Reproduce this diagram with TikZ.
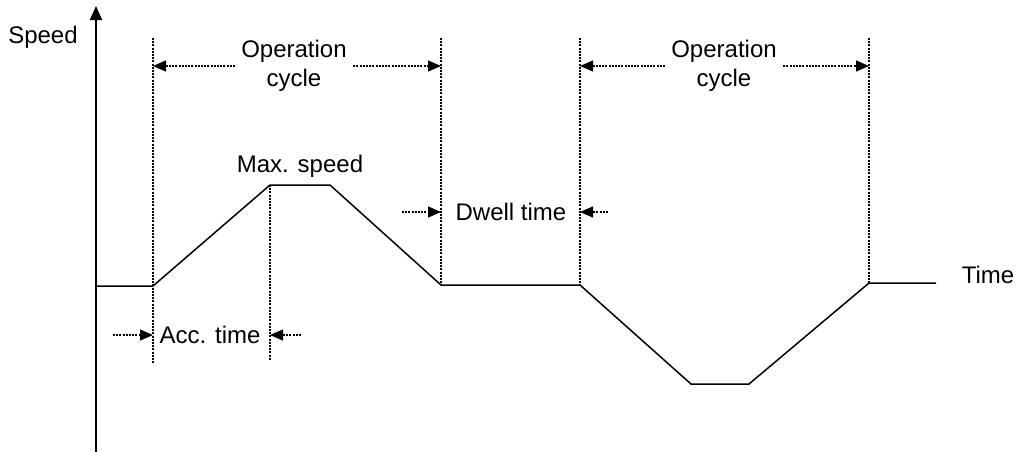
\documentclass[tikz,border=0pt]{standalone}
\usepackage{fontspec}
\setmainfont{Liberation Sans}
\usepackage{tikz}
\usetikzlibrary{arrows.meta, positioning, calc}
\tikzset{
  profileline/.style={line width=0.75pt, draw=black},
  guideline/.style={line width=0.6pt, draw=black, dash pattern=on 1pt off 0.6pt},
  spanarrow/.style={-{Triangle[length=6.5pt, width=5.5pt]}, line width=0.6pt, dash pattern=on 1pt off 0.6pt},
  axisarrow/.style={-{Triangle[length=7pt, width=6pt]}, line width=0.75pt},
  plotlabel/.style={align=center, inner sep=1pt, font=\fontsize{12}{14.5}\selectfont}
}
\begin{document}
\begin{tikzpicture}[x=0.5pt, y=-0.5pt]
  \useasboundingbox (0,0) rectangle (1019,452);

  % profile corners
  \coordinate (axbottom) at (96,452);
  \coordinate (axtop) at (96,6);
  \coordinate (start) at (96,286);
  \coordinate (accbegin) at (153,286);
  \coordinate (topleft) at (270,185);
  \coordinate (topright) at (330,185);
  \coordinate (dwellbegin) at (441,285);
  \coordinate (dwellend) at (580,285);
  \coordinate (lowleft) at (691,384);
  \coordinate (lowright) at (749,384);
  \coordinate (cycleend) at (869,283);
  \coordinate (finish) at (936,283);

  % axis and speed profile
  \draw[axisarrow] (axbottom) -- (axtop);
  \draw[profileline] (start) -- (accbegin) -- (topleft) -- (topright)
    -- (dwellbegin) -- (dwellend) -- (lowleft) -- (lowright)
    -- (cycleend) -- (finish);

  % guide lines
  \draw[guideline] (accbegin |- 0,38) -- (accbegin |- 0,363);
  \draw[guideline] (topleft) -- (topleft |- 0,360);
  \draw[guideline] (dwellbegin |- 0,38) -- (dwellbegin);
  \draw[guideline] (dwellend |- 0,38) -- (dwellend);
  \draw[guideline] (cycleend |- 0,38) -- (cycleend);

  % labels
  \node[plotlabel] (speed) at (43,37) {Speed};
  \node[plotlabel] (time) at (988,275) {Time};
  \node[plotlabel] (maxspeed) at (300,166) {Max. speed};
  \node[plotlabel, inner sep=3pt] (cycleA) at (294,66) {Operation\\cycle};
  \node[plotlabel, inner sep=3pt] (cycleB) at (724,66) {Operation\\cycle};
  \node[plotlabel, inner sep=4pt] (acc) at (210,335) {Acc. time};
  \node[plotlabel, inner sep=4pt] (dwell) at (511,212) {Dwell time};

  % span arrows
  \draw[spanarrow] (cycleA.west |- 0,66) -- (accbegin |- 0,66);
  \draw[spanarrow] (cycleA.east |- 0,66) -- (dwellbegin |- 0,66);
  \draw[spanarrow] (cycleB.west |- 0,66) -- (dwellend |- 0,66);
  \draw[spanarrow] (cycleB.east |- 0,66) -- (cycleend |- 0,66);
  \draw[spanarrow] (113,335) -- (accbegin |- acc);
  \draw[spanarrow] (301,335) -- (topleft |- acc);
  \draw[spanarrow] (402,212) -- (dwellbegin |- dwell);
  \draw[spanarrow] (608,212) -- (dwellend |- dwell);
\end{tikzpicture}
\end{document}
